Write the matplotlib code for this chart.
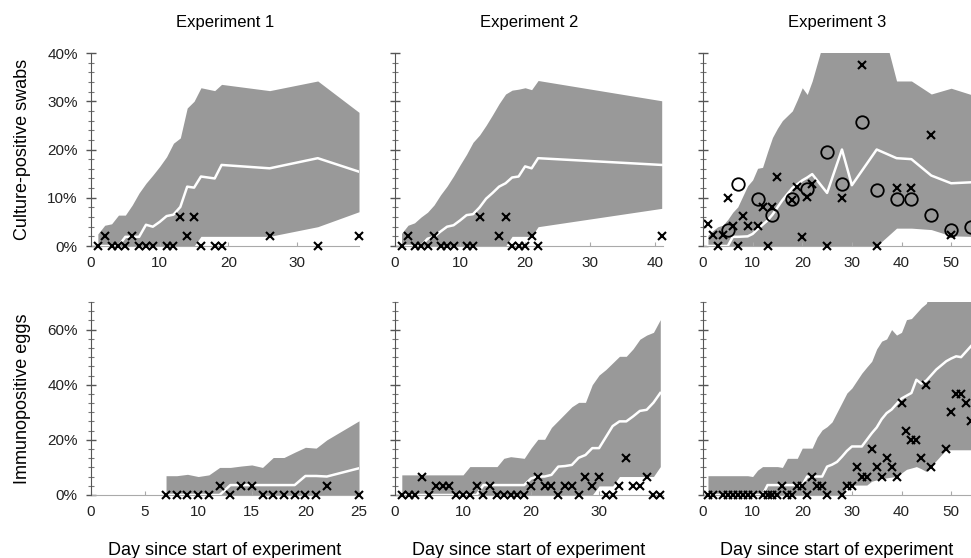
import matplotlib
matplotlib.use("Agg")
import matplotlib.pyplot as plt
from matplotlib.ticker import MultipleLocator, PercentFormatter
import numpy as np

plt.rcParams["font.family"] = ["Liberation Sans", "DejaVu Sans"]

col_titles = ["Experiment 1", "Experiment 2", "Experiment 3"]
row_labels = ["Culture-positive swabs", "Immunopositive eggs"]
x_label = "Day since start of experiment"

# ---- row 1: culture-positive swabs (%) ----
# Experiment 1
a_days = [1, 2, 3, 4, 5, 6, 7, 8, 9, 10, 11, 12, 13, 14, 15, 16, 18, 19, 26, 33, 39]
a_hi = [2.5, 4.3, 4.6, 6.4, 6.4, 8.5, 11.0, 13.0, 14.7, 16.5, 18.5, 21.3, 22.4, 28.6, 30.0,
        32.8, 32.2, 33.5, 32.2, 34.2, 27.7]
a_lo = [0, 0, 0, 0, 0, 0, 0, 0, 0, 0, 0, 0, 0, 0, 0, 2.0, 2.0, 2.0, 2.0, 4.0, 7.1]
a_med = [0, 0, 0, 0, 1.9, 1.9, 1.9, 4.4, 4.0, 5.0, 6.2, 6.5, 8.1, 12.3, 12.1, 14.4, 14.0,
         16.8, 16.1, 18.2, 15.4]
a_obs_day = [1, 3, 4, 5, 7, 8, 9, 11, 12, 16, 18, 19, 33, 2, 6, 14, 26, 39, 13, 15]
a_obs_val = [0, 0, 0, 0, 0, 0, 0, 0, 0, 0, 0, 0, 0, 2, 2, 2, 2, 2, 6, 6]

# Experiment 2
b_days = [1, 2, 3, 4, 5, 6, 7, 8, 9, 10, 11, 12, 13, 14, 15, 16, 17, 18, 19, 20, 21, 22, 41]
b_hi = [2.6, 4.3, 4.8, 6.0, 7.0, 8.5, 10.6, 12.4, 14.5, 16.8, 19.0, 21.5, 23.0, 25.0, 27.2,
        29.5, 31.5, 32.3, 32.5, 32.8, 32.4, 34.3, 30.1]
b_lo = [0, 0, 0, 0, 0, 0, 0, 0, 0, 0, 0, 0, 0, 0, 0, 0, 0, 2.0, 2.0, 2.0, 2.0, 4.0, 7.8]
b_med = [0, 0, 0, 0, 1.5, 1.9, 3.0, 4.0, 4.3, 5.3, 6.4, 6.6, 8.0, 9.8, 11.0, 12.3, 13.0,
         14.2, 14.4, 16.5, 16.1, 18.2, 16.8]
b_obs_day = [1, 3, 4, 5, 7, 8, 9, 11, 12, 18, 19, 20, 22, 2, 6, 16, 21, 41, 13, 17]
b_obs_val = [0, 0, 0, 0, 0, 0, 0, 0, 0, 0, 0, 0, 0, 2, 2, 2, 2, 2, 6, 6]

# Experiment 3
c_days = [1, 2, 3, 4, 5, 6, 7, 9, 10, 11, 12, 13, 14, 15, 16, 18, 19, 20, 21, 22, 25, 28,
          30, 35, 39, 42, 46, 50, 54]
c_hi = [2.2, 3.2, 4.0, 4.3, 5.5, 7.0, 8.1, 12.5, 13.7, 16.1, 16.3, 19.5, 22.5, 24.4, 26.0,
        28.0, 30.3, 32.8, 31.4, 34.2, 45.0, 45.0, 45.0, 50.0, 34.2, 34.2, 31.5, 32.7, 31.4]
c_lo = [0, 0, 0, 0, 0, 0, 0, 0, 0, 0, 0, 0, 0, 0, 0, 0, 0, 0, 0, 0, 0, 0, 0, 0,
        3.7, 3.7, 3.4, 2.1, 2.0]
c_med = [0, 0, 0, 0, 0, 1.9, 1.9, 2.0, 2.5, 3.5, 4.4, 5.3, 6.5, 8.0, 9.5, 12.0, 12.8, 13.6,
         14.2, 14.9, 11.0, 20.0, 12.6, 20.0, 18.2, 18.0, 14.6, 13.0, 13.2]
c_obs_day = [1, 2, 3, 4, 5, 6, 7, 8, 9, 11, 12, 13, 14, 15, 18, 19, 20, 21, 22, 25, 28, 32,
             35, 39, 42, 46, 50]
c_obs_val = [4.6, 2.2, 0, 2.2, 10.0, 4.1, 0, 6.2, 4.1, 4.1, 8.1, 0, 8.1, 14.4, 9.5, 12.3,
             1.9, 10.2, 12.8, 0, 10.0, 37.6, 0, 12.1, 12.1, 23.0, 2.2]
c_alt_day = [5, 7, 11, 14, 18, 21, 25, 28, 32, 35, 39, 42, 46, 50, 54]
c_alt_val = [3.3, 12.8, 9.7, 6.5, 9.7, 11.8, 19.4, 12.8, 25.8, 11.7, 9.7, 9.7, 6.5, 3.3, 4.0]

# ---- row 2: immunopositive eggs (%) ----
# Experiment 1
d_days = list(range(7, 26))
d_hi = [7.0, 7.0, 7.5, 6.7, 7.3, 10.0, 10.0, 10.5, 10.9, 10.0, 13.6, 13.6, 15.5, 17.3,
        17.0, 20.0, 22.3, 24.6, 26.9]
d_lo = [0] * 19
d_med = [0, 0, 0, 0, 0, 0, 3.6, 3.6, 3.6, 3.6, 3.6, 3.6, 3.6, 6.9, 6.9, 6.7, 7.7, 8.7, 9.7]
d_obs_day = [7, 8, 9, 10, 11, 13, 16, 17, 18, 19, 20, 21, 25, 12, 14, 15, 22]
d_obs_val = [0, 0, 0, 0, 0, 0, 0, 0, 0, 0, 0, 0, 0, 3.3, 3.3, 3.3, 3.3]

# Experiment 2
e_days = list(range(1, 40))
e_hi = [7.3, 7.3, 7.3, 7.3, 7.3, 7.3, 7.3, 7.3, 7.3, 7.3, 10.3, 10.3, 10.3, 10.3, 10.3,
        13.3, 13.9, 13.6, 13.3, 17.0, 20.2, 20.2, 24.5, 27.0, 29.5, 32.0, 33.6, 33.6, 40.0,
        43.5, 45.5, 47.9, 50.3, 50.3, 53.0, 56.5, 58.0, 59.0, 63.6]
e_lo = [0] * 29 + [3.3, 3.3, 3.3, 6.7, 6.7, 6.7, 6.7, 6.7, 6.7, 10.3]
e_med = [0, 0, 0, 0, 0, 0, 0, 0, 0, 0, 0, 0, 3.6, 3.6, 3.6, 3.6, 3.6, 3.6, 3.6, 6.0, 6.7,
         6.7, 7.3, 10.3, 10.5, 10.9, 13.5, 14.5, 17.0, 17.0, 21.0, 25.0, 26.7, 26.7, 28.5,
         30.5, 30.9, 33.5, 37.0]
e_obs_day = list(range(1, 40))
e_obs_val = [0, 0, 0, 6.7, 0, 3.3, 3.3, 3.3, 0, 0, 0, 3.3, 0, 3.3, 0, 0, 0, 0, 0, 3.3, 6.7,
             3.3, 3.3, 0, 3.3, 3.3, 0, 6.7, 3.3, 6.7, 0, 0, 3.3, 13.3, 3.3, 3.3, 6.7, 0, 0]

# Experiment 3
f_days = list(range(1, 55))
f_hi = [7.0, 7.0, 7.0, 7.0, 7.0, 7.0, 7.0, 7.0, 7.0, 6.7, 9.0, 10.3, 10.3, 10.3, 10.3, 10.0,
        13.3, 13.3, 13.3, 17.0, 17.0, 17.0, 21.0, 23.6, 24.8, 26.5, 30.0, 33.5, 37.0, 38.8,
        41.5, 44.2, 46.4, 48.5, 53.0, 55.8, 56.6, 60.0, 58.0, 59.0, 63.6, 64.0, 66.0, 68.0,
        69.5, 75, 75, 75, 75, 75, 75, 75, 75, 75]
f_lo = [0] * 28 + [3.0, 3.6, 3.6, 3.6, 3.6, 5.0, 5.5, 6.0, 6.2, 6.5, 6.7, 8.0, 9.3, 9.8,
                   10.3, 9.5, 8.5, 10.5, 12.5, 14.5, 16.4, 16.4, 16.4, 16.4, 16.4, 16.4]
f_med = [0] * 12 + [3.6] * 8 + [6.7, 6.7, 6.7, 6.7, 10.3, 11.0, 12.0, 13.9, 16.0, 17.6,
                                17.6, 17.6, 20.0, 22.4, 24.5, 27.5, 29.7, 31.0, 33.0, 35.0,
                                36.0, 37.0, 41.8, 40.4, 41.5, 43.5, 45.5, 47.0, 48.5, 49.5,
                                50.3, 50.0, 52.0, 54.0]
f_obs_day = [1, 2, 4, 5, 6, 7, 8, 9, 10, 12, 13, 14, 15, 17, 18, 21, 25, 28,
             16, 19, 20, 23, 24, 29, 30, 22, 32, 33, 36, 39, 31, 35, 38, 37, 34,
             40, 41, 42, 43, 44, 45, 46, 49, 50, 51, 52, 53, 54]
f_obs_val = [0] * 18 + [3.3] * 7 + [6.7] * 5 + [10.0] * 3 + [13.3, 16.7,
             33.3, 23.3, 20.0, 20.0, 13.3, 40.0, 10.0, 16.7, 30.0, 36.7, 36.7, 33.3, 26.7]

panels = [
    [(a_days, a_lo, a_hi, a_med, a_obs_day, a_obs_val, None, None, 39, [0, 10, 20, 30]),
     (b_days, b_lo, b_hi, b_med, b_obs_day, b_obs_val, None, None, 41.2, [0, 10, 20, 30, 40]),
     (c_days, c_lo, c_hi, c_med, c_obs_day, c_obs_val, c_alt_day, c_alt_val, 54,
      [0, 10, 20, 30, 40, 50])],
    [(d_days, d_lo, d_hi, d_med, d_obs_day, d_obs_val, None, None, 25, [0, 5, 10, 15, 20, 25]),
     (e_days, e_lo, e_hi, e_med, e_obs_day, e_obs_val, None, None, 39.4, [0, 10, 20, 30]),
     (f_days, f_lo, f_hi, f_med, f_obs_day, f_obs_val, None, None, 54,
      [0, 10, 20, 30, 40, 50])],
]
row_ylim = [40, 70]
row_major = [10, 20]
row_minor = [2, 20 / 6]

fig = plt.figure(figsize=(9.71, 5.58), dpi=100)
lefts = [91, 395, 703]
bottoms = [246, 495]
W, H = 971.0, 558.0

for r in range(2):
    for c in range(3):
        days, lo, hi, med, od, ov, ad, av, xmax, xt = panels[r][c]
        ax = fig.add_axes([lefts[c] / W, (H - bottoms[r]) / H, 268 / W, 193 / H])
        ax.fill_between(days, lo, hi, color="#999999", linewidth=0, zorder=1)
        ax.plot(days, med, color="white", lw=1.8, zorder=2)
        ax.plot(od, ov, linestyle="none", marker="x", color="black", ms=6, mew=1.5,
                clip_on=False, zorder=4)
        if ad is not None:
            ax.plot(ad, av, linestyle="none", marker="o", mfc="none", mec="black", ms=9,
                    mew=1.3, zorder=4)
        ax.set_xlim(0, xmax)
        ax.set_ylim(0, row_ylim[r])
        ax.set_xticks(xt)
        ax.yaxis.set_major_locator(MultipleLocator(row_major[r]))
        ax.yaxis.set_minor_locator(MultipleLocator(row_minor[r]))
        ax.yaxis.set_major_formatter(PercentFormatter(decimals=0))
        for s in ["top", "right"]:
            ax.spines[s].set_visible(False)
        ax.spines["left"].set_color("#555555")
        ax.spines["bottom"].set_color("#aaaaaa")
        ax.spines["left"].set_zorder(5)
        ax.spines["bottom"].set_zorder(3)
        ax.tick_params(axis="y", which="major", direction="inout", length=7, width=1,
                       color="#555555", labelsize=11, labelcolor="#222222", pad=6)
        ax.tick_params(axis="y", which="minor", direction="inout", length=4, width=0.8,
                       color="#777777")
        ax.tick_params(axis="x", which="major", direction="in", length=3, color="#aaaaaa",
                       labelsize=11, labelcolor="#222222", pad=7)
        if c > 0:
            ax.tick_params(axis="y", labelleft=False)
        else:
            ax.set_ylabel(row_labels[r], fontsize=13, labelpad=12)
        if r == 0:
            ax.set_title(col_titles[c], fontsize=12, pad=19)
        else:
            ax.set_xlabel(x_label, fontsize=13, labelpad=17)

fig.savefig("out.png", dpi=100)
